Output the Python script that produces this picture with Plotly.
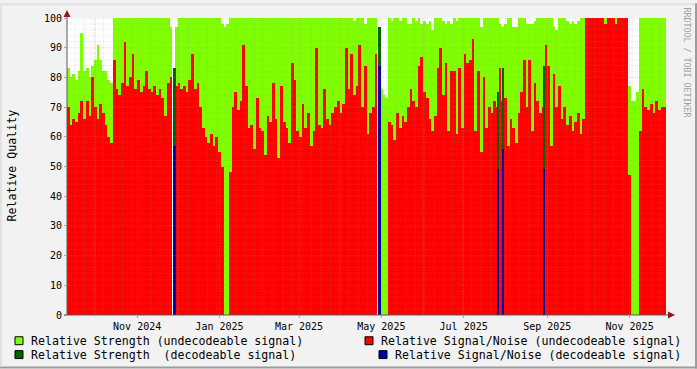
import pandas as pd
import plotly.graph_objects as go

# ---------------- data (2-day buckets starting 2024-09-10) ----------------
start_date = "2024-09-10"
end_date = "2025-11-28"
bucket_days = 2

strength_undecodeable = [
    83, 80, 81, 79, 82, 95, 82, 83, 80, 84, 86, 91, 86, 82, 82, 79, 78, 100, 100, 100,
    100, 100, 100, 100, 100, 100, 100, 100, 100, 100, 100, 100, 100, 100, 100, 100, 100, 100, 97, None,
    97, 100, 100, 100, 100, 100, 100, 100, 100, 100, 100, 100, 100, 100, 100, 100, 100, 98, 97, 98,
    100, 100, 100, 100, 100, 100, 100, 100, 100, 100, 100, 100, 100, 100, 100, 100, 100, 100, 100, 100,
    100, 100, 100, 100, 100, 100, 100, 100, 100, 100, 100, 100, 100, 100, 100, 100, 100, 100, 100, 100,
    100, 100, 100, 100, 100, 100, 99, 100, 100, 100, 98, 100, 100, 100, 100, None, 76, 74, 73, 100,
    99, 100, 100, 99, 100, 100, 98, 98, 100, 99, 100, 98, 99, 98, 99, 96, 100, 100, 100, 99,
    98, 99, 98, 100, 99, 100, 100, 100, 100, 100, 100, 100, 100, 97, 100, 100, 100, 100, 100, 100,
    98, 97, 98, 100, 100, 97, 97, 100, 100, 100, 98, 98, 98, 99, 100, 100, 100, 100, 100, 100,
    97, 96, 100, 100, 100, 99, 98, 99, 98, 99, 100, 100, 100, 100, 100, 100, 100, 100, 100, 100,
    100, 100, 100, 100, 100, 100, 100, 100, 77, 72, 72, 75, 100, 100, 100, 100, 100, 100, 100, 100,
    100, 100,
]

snr_undecodeable = [
    70, 64, 66, 65, 68, 72, 66, 72, 67, 80, 70, 66, 71, 68, 64, 60, 58, 86, 76, 74,
    78, 92, 77, 80, 88, 76, 79, 75, 77, 82, 76, 75, 77, 74, 76, 73, 67, 78, 80, None,
    77, 78, 76, 77, 75, 79, 88, 76, 78, 70, 63, 60, 58, 61, 57, 60, 55, 50, 0, 0,
    48, 70, 75, 69, 72, 91, 77, 63, 64, 56, 73, 63, 62, 54, 67, 65, 78, 66, 53, 77,
    65, 63, 58, 85, 79, 62, 60, 71, 63, 68, 57, 62, 90, 64, 63, 76, 66, 64, 68, 70,
    72, 68, 71, 90, 76, 88, 74, 77, 91, 70, 84, 61, 68, 70, 88, None, 0, 0, 0, 65,
    64, 59, 68, 63, 67, 65, 70, 76, 72, 70, 84, 87, 75, 73, 66, 62, 67, 83, 90, 74,
    85, 62, 82, 82, 61, 83, 63, 88, 85, 86, 93, 62, 82, 55, 80, 63, 70, 68, 72, 70,
    83, 72, 73, 57, 66, 63, 58, 68, 75, 86, 70, 86, 62, 78, 72, 68, 70, 91, 84, 57,
    81, 70, 77, 66, 70, 64, 67, 62, 65, 68, 61, 66, 100, 100, 100, 100, 100, 100, 100, 98,
    100, 100, 100, 98, 100, 100, 100, 100, 47, 0, 0, 0, 62, 76, 70, 69, 71, 68, 72, 69,
    70, 70,
]

decodeable_dates = ["2024-11-28", "2025-04-29", "2025-07-26", "2025-07-30", "2025-08-29"]
strength_decodeable = [83, 97, 75, 83, 84]
snr_decodeable = [57, 84, 49, 56, 49]

tick_months = ["2024-11-01", "2025-01-01", "2025-03-01", "2025-05-01", "2025-07-01",
               "2025-09-01", "2025-11-01"]
tick_labels = ["Nov 2024", "Jan 2025", "Mar 2025", "May 2025", "Jul 2025", "Sep 2025", "Nov 2025"]
y_ticks = [0, 10, 20, 30, 40, 50, 60, 70, 80, 90, 100]

legend_labels = [
    "Relative Strength (undecodeable signal)",
    "Relative Strength  (decodeable signal)",
    "Relative Signal/Noise (undecodeable signal)",
    "Relative Signal/Noise (decodeable signal)",
]

# ---------------- styling ----------------
C_GREEN = "#80ff00"
C_RED = "#ff0000"
C_DGREEN = "#006400"
C_BLUE = "#00009c"
FONT = "DejaVu Sans Mono"

W, H = 697, 369
PL, PR, PT, PB = 67, 666, 15, 315  # plot area in pixels


def px(xp):
    return (xp - PL) / (PR - PL)


def py(yp):
    return (PB - yp) / (PB - PT)


t0 = pd.Timestamp(start_date)
day_ms = 86400000
n = len(snr_undecodeable)
centers = [t0 + pd.Timedelta(days=bucket_days * i + bucket_days / 2) for i in range(n)]

fig = go.Figure()
fig.add_trace(go.Bar(x=centers, y=strength_undecodeable, width=bucket_days * day_ms,
                     marker=dict(color=C_GREEN, line=dict(width=0)), hoverinfo="skip"))
fig.add_trace(go.Bar(x=centers, y=snr_undecodeable, width=bucket_days * day_ms,
                     marker=dict(color=C_RED, line=dict(width=0)), hoverinfo="skip"))

dec_x = [pd.Timestamp(d) + pd.Timedelta(hours=12) for d in decodeable_dates]
# full-width where undecodeable data is missing, thin otherwise
dec_w = []
for d in dec_x:
    idx = int((d - t0).days // bucket_days)
    dec_w.append(bucket_days * day_ms if snr_undecodeable[idx] is None else 1.2 * day_ms)
fig.add_trace(go.Bar(x=dec_x, y=strength_decodeable, width=dec_w,
                     marker=dict(color=C_DGREEN, line=dict(width=0)), hoverinfo="skip"))
fig.add_trace(go.Bar(x=dec_x, y=snr_decodeable, width=dec_w,
                     marker=dict(color=C_BLUE, line=dict(width=0)), hoverinfo="skip"))

MINOR = "rgba(150,150,150,0.22)"
MAJOR = "rgba(255,110,110,0.35)"
shapes = []
# horizontal grid (drawn above data, like rrdtool)
for v in range(2, 101, 2):
    major = v % 10 == 0
    shapes.append(dict(type="line", xref="paper", yref="y", x0=0, x1=1, y0=v, y1=v,
                       layer="above",
                       line=dict(color=MAJOR if major else MINOR, width=1, dash="1px,1px")))
# vertical grid: weekly minor, monthly major
for d in pd.date_range("2024-09-16", end_date, freq="7D"):
    shapes.append(dict(type="line", xref="x", yref="paper", x0=d, x1=d, y0=0, y1=1,
                       layer="above", line=dict(color=MINOR, width=1, dash="1px,1px")))
for d in pd.date_range("2024-10-01", end_date, freq="MS"):
    shapes.append(dict(type="line", xref="x", yref="paper", x0=d, x1=d, y0=0, y1=1,
                       layer="above", line=dict(color=MAJOR, width=1, dash="1px,1px")))

# axes lines + arrows
AX = "#5a5a5a"
ARW = "#8a1c1c"
shapes.append(dict(type="line", xref="paper", yref="paper", x0=px(67), x1=px(67),
                   y0=py(315), y1=py(11), line=dict(color=AX, width=1), layer="above"))
shapes.append(dict(type="line", xref="paper", yref="paper", x0=px(64), x1=px(669),
                   y0=py(315), y1=py(315), line=dict(color=AX, width=1), layer="above"))
shapes.append(dict(type="path", xref="paper", yref="paper", layer="above",
                   path=f"M {px(63.5)} {py(14)} L {px(70.5)} {py(14)} L {px(67)} {py(7)} Z",
                   fillcolor=ARW, line=dict(width=0)))
shapes.append(dict(type="path", xref="paper", yref="paper", layer="above",
                   path=f"M {px(668)} {py(311.5)} L {px(668)} {py(318.5)} L {px(675)} {py(315)} Z",
                   fillcolor=ARW, line=dict(width=0)))

# outer frame shading
shapes.append(dict(type="rect", xref="paper", yref="paper", x0=px(695), x1=px(697),
                   y0=py(0), y1=py(369), fillcolor="#9c9c9c", line=dict(width=0), layer="above"))
shapes.append(dict(type="rect", xref="paper", yref="paper", x0=px(0), x1=px(697),
                   y0=py(367), y1=py(369), fillcolor="#9c9c9c", line=dict(width=0), layer="above"))
shapes.append(dict(type="rect", xref="paper", yref="paper", x0=px(0), x1=px(695),
                   y0=py(0), y1=py(2), fillcolor="#e2e2e2", line=dict(width=0), layer="above"))
shapes.append(dict(type="rect", xref="paper", yref="paper", x0=px(0), x1=px(2),
                   y0=py(0), y1=py(367), fillcolor="#e2e2e2", line=dict(width=0), layer="above"))

annotations = []
# legend
legend_items = [
    (15, 341, 30, C_GREEN, legend_labels[0]),
    (15, 355, 30, C_DGREEN, legend_labels[1]),
    (365, 341, 380, C_RED, legend_labels[2]),
    (379, 355, 394, C_BLUE, legend_labels[3]),
]
for bx, cy, tx, col, lab in legend_items:
    shapes.append(dict(type="rect", xref="paper", yref="paper", x0=px(bx), x1=px(bx + 8),
                       y0=py(cy - 4), y1=py(cy + 4), fillcolor=col,
                       line=dict(color="#000000", width=1), layer="above"))
    annotations.append(dict(x=px(tx), y=py(cy), xref="paper", yref="paper", text=lab,
                            showarrow=False, xanchor="left", yanchor="middle", borderpad=0,
                            font=dict(family=FONT, size=11.6, color="#000000")))

annotations.append(dict(x=px(12), y=py(164), xref="paper", yref="paper", text="Relative Quality",
                        showarrow=False, textangle=-90, xanchor="center", yanchor="middle",
                        font=dict(family=FONT, size=11.6, color="#000000")))
annotations.append(dict(x=px(687), y=py(60), xref="paper", yref="paper",
                        text="RRDTOOL / TOBI OETIKER", showarrow=False, textangle=90,
                        xanchor="center", yanchor="middle",
                        font=dict(family=FONT, size=8.3, color="#a0a0a0")))

fig.update_layout(
    width=W, height=H,
    margin=dict(l=PL, r=W - PR, t=PT, b=H - PB, pad=0),
    paper_bgcolor="#f2f2f2", plot_bgcolor="#ffffff",
    barmode="overlay", bargap=0, showlegend=False,
    font=dict(family=FONT, size=10, color="#000000"),
    xaxis=dict(type="date", range=[t0, pd.Timestamp(end_date)], tickvals=tick_months,
               ticktext=tick_labels, showgrid=False, zeroline=False, showline=False,
               ticks="outside", ticklen=2, tickcolor="#ff8080", tickfont=dict(family=FONT, size=10)),
    yaxis=dict(range=[0, 100], tickvals=y_ticks, showgrid=False, zeroline=False, showline=False,
               ticks="outside", ticklen=2, tickcolor="#ff8080", tickfont=dict(family=FONT, size=10)),
    shapes=shapes, annotations=annotations,
)

fig.write_html("out.html")
